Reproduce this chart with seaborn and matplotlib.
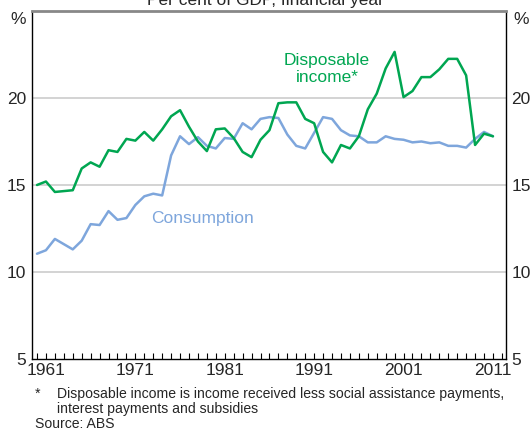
import numpy as np
import pandas as pd
import seaborn as sns
import matplotlib
matplotlib.use("Agg")
import matplotlib.pyplot as plt
from matplotlib.ticker import MultipleLocator

# %% data (per cent of GDP, financial year)
years = list(range(1960, 2012))
disposable = [15.0, 15.2, 14.6, 14.65, 14.7, 15.95, 16.3, 16.05, 17.0, 16.9,
              17.65, 17.55, 18.05, 17.55, 18.2, 18.95, 19.3, 18.35, 17.5, 16.95,
              18.2, 18.25, 17.7, 16.9, 16.6, 17.6, 18.15, 19.7, 19.75, 19.75,
              18.8, 18.55, 16.9, 16.3, 17.3, 17.1, 17.8, 19.35, 20.25, 21.7,
              22.65, 20.05, 20.4, 21.2, 21.2, 21.65, 22.25, 22.25, 21.3, 17.3,
              17.95, 17.8]
consumption = [11.05, 11.25, 11.9, 11.6, 11.3, 11.8, 12.75, 12.7, 13.5, 13.0,
               13.1, 13.85, 14.35, 14.5, 14.4, 16.7, 17.8, 17.35, 17.75, 17.25,
               17.1, 17.7, 17.65, 18.55, 18.2, 18.8, 18.9, 18.85, 17.9, 17.25,
               17.1, 18.0, 18.9, 18.8, 18.15, 17.85, 17.8, 17.45, 17.45, 17.8,
               17.65, 17.6, 17.45, 17.5, 17.4, 17.45, 17.25, 17.25, 17.15, 17.65,
               18.05, 17.8]
y_ticks = [5, 10, 15, 20]
x_labels = [1961, 1971, 1981, 1991, 2001, 2011]

green = "#00a651"
blue = "#7ea6dc"

df = pd.DataFrame({"year": years, "disposable": disposable, "consumption": consumption})

sns.set_theme(style="white")
plt.rcParams["font.family"] = ["Liberation Sans", "DejaVu Sans"]

W, H = 530, 434
fig = plt.figure(figsize=(W / 100, H / 100), dpi=100)
ax = fig.add_axes([32 / W, 1 - 359 / H, (506 - 32) / W, (359 - 11) / H])

# horizontal grid
for v in [10, 15, 20]:
    ax.axhline(v, color="#cccccc", lw=1.2, zorder=0)

sns.lineplot(data=df, x="year", y="consumption", color=blue, lw=1.8, ax=ax)
sns.lineplot(data=df, x="year", y="disposable", color=green, lw=1.8, ax=ax)

ax.set_xlim(1959.44, 2012.46)
ax.set_ylim(5, 25)
ax.set_xlabel("")
ax.set_ylabel("")

ax.set_xticks(x_labels)
ax.xaxis.set_minor_locator(MultipleLocator(1))
ax.tick_params(axis="x", which="both", direction="in", length=4, width=0.8,
               color="black", bottom=True, labelsize=12.5, pad=3)
ax.set_yticks(y_ticks)
ax.tick_params(axis="y", which="both", length=0, labelsize=12.5, pad=4,
               left=False, right=False, labelleft=True, labelright=True)

for side in ["left", "right", "bottom"]:
    ax.spines[side].set_color("black")
    ax.spines[side].set_linewidth(1.0)
ax.spines["top"].set_color("#888888")
ax.spines["top"].set_linewidth(2.0)

# series labels
fig.text(327 / W, 1 - 69 / H, "Disposable\nincome*", color=green, fontsize=12.5,
         ha="center", va="center", linespacing=1.1)
fig.text(203 / W, 1 - 218 / H, "Consumption", color=blue, fontsize=12.5,
         ha="center", va="center")

fig.text(18 / W, 1 - 20 / H, "%", fontsize=12.5, ha="center", va="center")
fig.text(521 / W, 1 - 20 / H, "%", fontsize=12.5, ha="center", va="center")
# title is clipped by the top edge, as in the source
fig.text(265 / W, 1 - 0 / H, "Per cent of GDP, financial year", fontsize=12.5,
         ha="center", va="center")

# notes
fig.text(35 / W, 1 - 394 / H, "*", fontsize=10.1, ha="left", va="center")
fig.text(57 / W, 1 - 394 / H,
         "Disposable income is income received less social assistance payments,",
         fontsize=10.1, ha="left", va="center")
fig.text(57 / W, 1 - 409 / H, "interest payments and subsidies",
         fontsize=10.1, ha="left", va="center")
fig.text(35 / W, 1 - 424 / H, "Source: ABS", fontsize=10.1, ha="left", va="center")

fig.savefig("out.png", dpi=100)
